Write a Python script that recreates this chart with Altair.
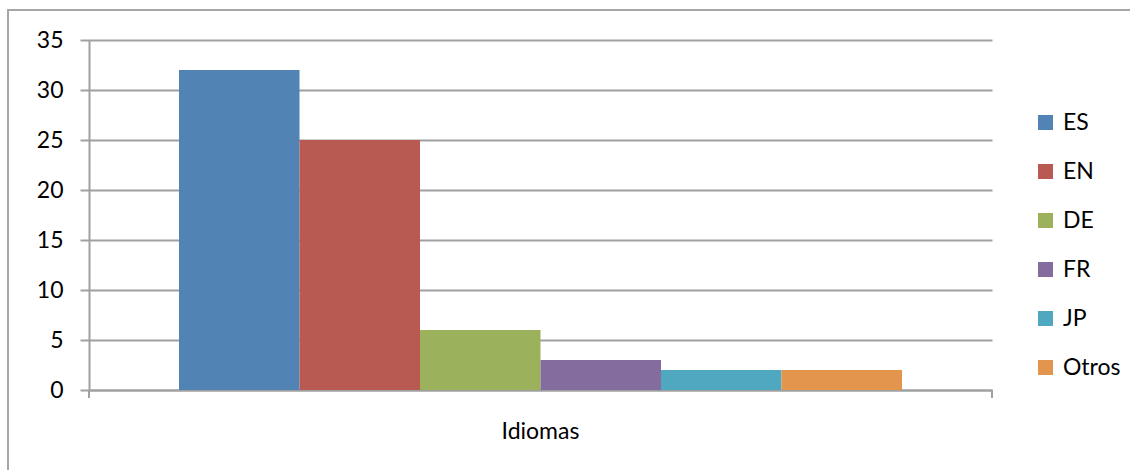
import altair as alt
import pandas as pd

idiomas = ["ES", "EN", "DE", "FR", "JP", "Otros"]
valores = [32, 25, 6, 3, 2, 2]
colores = ["#5283b5", "#b85a52", "#9bb15c", "#846d9e", "#4fa8bf", "#e3954d"]
grupo = "Idiomas"
y_ticks = [0, 5, 10, 15, 20, 25, 30, 35]

df = pd.DataFrame({"grupo": [grupo] * len(idiomas), "idioma": idiomas, "valor": valores})

FONT = "Lato"
GRID = "#a0a0a0"

bars = alt.Chart(df).mark_bar().encode(
    x=alt.X(
        "grupo:N",
        scale=alt.Scale(paddingInner=0, paddingOuter=0.1245),
        axis=alt.Axis(
            title=None, ticks=False, labelFontSize=23, labelFont=FONT, labelColor="black",
            labelPadding=30, labelAngle=0, domainColor=GRID, domainWidth=2, grid=False,
        ),
    ),
    xOffset=alt.XOffset("idioma:N", sort=idiomas,
                        scale=alt.Scale(domain=idiomas, paddingInner=0, paddingOuter=0)),
    y=alt.Y(
        "valor:Q",
        scale=alt.Scale(domain=[0, 35], nice=False),
        axis=alt.Axis(
            values=y_ticks, title=None, labelFontSize=23, labelFont=FONT, labelColor="black",
            labelPadding=17, tickSize=9, tickColor=GRID, tickWidth=2,
            domainColor=GRID, domainWidth=2, gridColor=GRID, gridWidth=2,
        ),
    ),
    color=alt.Color(
        "idioma:N",
        sort=idiomas,
        scale=alt.Scale(domain=idiomas, range=colores),
        legend=alt.Legend(
            orient="none", legendX=945, legendY=71, title=None, symbolType="square",
            symbolSize=225, symbolStrokeWidth=0, labelFontSize=23, labelFont=FONT,
            labelColor="black", labelOffset=6, rowPadding=25, padding=0,
        ),
    ),
)

border = alt.Chart(alt.Data(values=[{}])).mark_rect(
    fill="transparent", stroke="#a6a6a6", strokeWidth=2
).encode(x=alt.value(-81), y=alt.value(-30), x2=alt.value(1100), y2=alt.value(500))

tick_l = alt.Chart(alt.Data(values=[{}])).mark_rule(color=GRID, strokeWidth=2).encode(
    x=alt.value(0), y=alt.value(350), y2=alt.value(358))
tick_r = alt.Chart(alt.Data(values=[{}])).mark_rule(color=GRID, strokeWidth=2).encode(
    x=alt.value(903), y=alt.value(350), y2=alt.value(358))

chart = alt.layer(border, bars, tick_l, tick_r).properties(
    width=903, height=350,
    autosize=alt.AutoSizeParams(type="none"),
    padding={"left": 89, "top": 40, "right": 138, "bottom": 80},
    background="white",
).configure_view(strokeWidth=0)

chart.save("out.html", embed_options={"renderer": "svg", "actions": False})
